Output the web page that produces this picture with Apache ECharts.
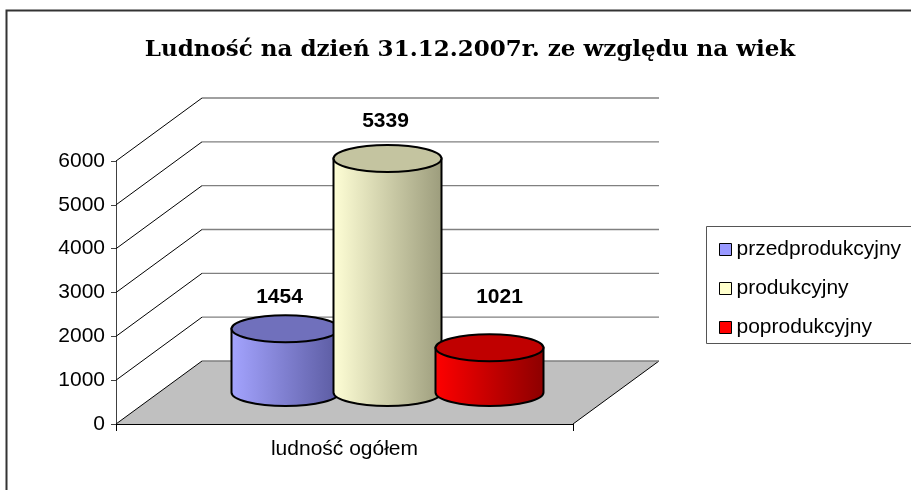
<!DOCTYPE html>
<html>
<head>
<meta charset="utf-8">
<script src="https://cdn.jsdelivr.net/npm/echarts@6/dist/echarts.min.js"></script>
<style>
html,body{margin:0;padding:0;background:#fff}
#chart{width:911px;height:490px}
</style>
</head>
<body>
<div id="chart"></div>
<script>
var categories = ['ludność ogółem'];
var seriesNames = ['przedprodukcyjny', 'produkcyjny', 'poprodukcyjny'];
var seriesValues = [1454, 5339, 1021];
var yTicks = [0, 1000, 2000, 3000, 4000, 5000, 6000];

var chart = echarts.init(document.getElementById('chart'));

// 3d depth of the box and cylinder size (px)
var DX = 86, DY = -63;
var RX = 54, RY = 13.5;
var BAR_STEP = 102;
var labelShift = [[-6, -32], [-2, -37], [10, -51]];
var FONT = '"Liberation Sans", Arial, sans-serif';

var colors = [
    {light: '#a4a4ff', dark: '#5a5aa0', top: '#7070bc', legend: '#9999ff'},
    {light: '#ffffd6', dark: '#9c9c7c', top: '#c4c4a0', legend: '#ffffcc'},
    {light: '#ff0000', dark: '#8c0000', top: '#c00000', legend: '#ff0000'}
];

/*---- back wall, side wall lines and floor ----*/
function renderWall(params, api) {
    var cs = params.coordSys;
    var y = api.coord([0, api.value(1)])[1];
    var x0 = cs.x, x1 = cs.x + cs.width;
    var kids = [];
    if (params.dataIndex === 0) {
        kids.push({
            type: 'polygon',
            shape: {points: [[x0, y], [x0 + DX, y + DY], [x1 + DX, y + DY], [x1, y]]},
            style: {fill: '#c0c0c0', stroke: null}
        });
        kids.push({
            type: 'line',
            shape: {x1: x1, y1: y, x2: x1 + DX, y2: y + DY},
            style: {stroke: '#000', lineWidth: 1}
        });
    }
    kids.push({
        type: 'line',
        shape: {x1: x0, y1: y, x2: x0 + DX, y2: y + DY},
        style: {stroke: '#000', lineWidth: 1}
    });
    kids.push({
        type: 'line',
        shape: {x1: x0 + DX, y1: y + DY, x2: x1 + DX, y2: y + DY},
        style: {stroke: '#808080', lineWidth: 1.3}
    });
    return {type: 'group', children: kids};
}

/*---- cylinders ----*/
function makeCylinder(i) {
    return function (params, api) {
        var base = api.coord([api.value(0), 0]);
        var top = api.coord([api.value(0), api.value(1)]);
        var cx = base[0] + DX / 2 + (i - 1) * BAR_STEP;
        var by = base[1] + DY / 2;
        var ty = top[1] + DY / 2;
        var x1 = cx - RX, x2 = cx + RX;
        var c = colors[i];
        var body = 'M' + x1 + ' ' + ty + ' L' + x1 + ' ' + by +
            ' A' + RX + ' ' + RY + ' 0 0 0 ' + x2 + ' ' + by +
            ' L' + x2 + ' ' + ty + ' Z';
        var lid = 'M' + x1 + ' ' + ty +
            ' A' + RX + ' ' + RY + ' 0 1 0 ' + x2 + ' ' + ty +
            ' A' + RX + ' ' + RY + ' 0 1 0 ' + x1 + ' ' + ty + ' Z';
        return {
            type: 'group',
            children: [
                {
                    type: 'path',
                    shape: {pathData: body},
                    style: {
                        fill: new echarts.graphic.LinearGradient(0, 0, 1, 0, [
                            {offset: 0, color: c.light},
                            {offset: 1, color: c.dark}
                        ]),
                        stroke: '#000', lineWidth: 2
                    }
                },
                {
                    type: 'path',
                    shape: {pathData: lid},
                    style: {fill: c.top, stroke: '#000', lineWidth: 2}
                },
                {
                    type: 'text',
                    style: {
                        text: String(api.value(1)),
                        x: cx + labelShift[i][0],
                        y: ty + labelShift[i][1],
                        align: 'center',
                        verticalAlign: 'middle',
                        font: 'bold 21px ' + FONT,
                        fill: '#000'
                    }
                }
            ]
        };
    };
}

var series = [{
    type: 'custom',
    name: 'walls',
    renderItem: renderWall,
    data: yTicks.map(function (v) { return [0, v]; }),
    silent: true,
    z: 1
}];
seriesNames.forEach(function (name, i) {
    series.push({
        type: 'custom',
        name: name,
        renderItem: makeCylinder(i),
        itemStyle: {color: colors[i].legend},
        data: [[0, seriesValues[i]]],
        z: 2 + i
    });
});

var option = {
    animation: false,
    grid: {left: 116, top: 161, right: 338, bottom: 66},
    graphic: [
        {
            type: 'rect',
            shape: {x: 6.5, y: 10.5, width: 1000, height: 1000},
            style: {fill: null, stroke: '#333', lineWidth: 2},
            silent: true
        },
        {
            type: 'rect',
            shape: {x: 706.5, y: 226.5, width: 260, height: 117},
            style: {fill: '#fff', stroke: '#555', lineWidth: 1},
            silent: true
        },
        {
            type: 'text',
            x: 470, y: 50,
            style: {
                text: 'Ludność na dzień 31.12.2007r. ze względu na wiek',
                align: 'center', verticalAlign: 'middle',
                font: 'bold 23px "DejaVu Serif", serif',
                fill: '#000'
            }
        }
    ],
    legend: {
        data: seriesNames.map(function (n, i) {
            return {name: n, itemStyle: {color: colors[i].legend, borderColor: '#000', borderWidth: 1}};
        }),
        orient: 'vertical',
        left: 714, top: 234,
        itemWidth: 12, itemHeight: 12,
        itemGap: 18,
        icon: 'rect',
        textStyle: {fontFamily: FONT, fontSize: 21, lineHeight: 21, color: '#000'},
        z: 10
    },
    xAxis: {
        type: 'category',
        data: categories,
        axisLine: {lineStyle: {color: '#000', width: 1}},
        axisTick: {show: true, length: 7, lineStyle: {color: '#000'}},
        axisLabel: {fontFamily: FONT, fontSize: 21, color: '#000', margin: 15}
    },
    yAxis: {
        type: 'value',
        min: 0, max: 6000, interval: 1000,
        axisLine: {show: true, lineStyle: {color: '#404040', width: 1}},
        axisTick: {show: true, length: 5, lineStyle: {color: '#404040'}},
        axisLabel: {
            fontFamily: FONT, fontSize: 21, color: '#000', margin: 11,
            formatter: function (v) { return String(v); }
        },
        splitLine: {show: false}
    },
    series: series
};

chart.setOption(option);
</script>
</body>
</html>
